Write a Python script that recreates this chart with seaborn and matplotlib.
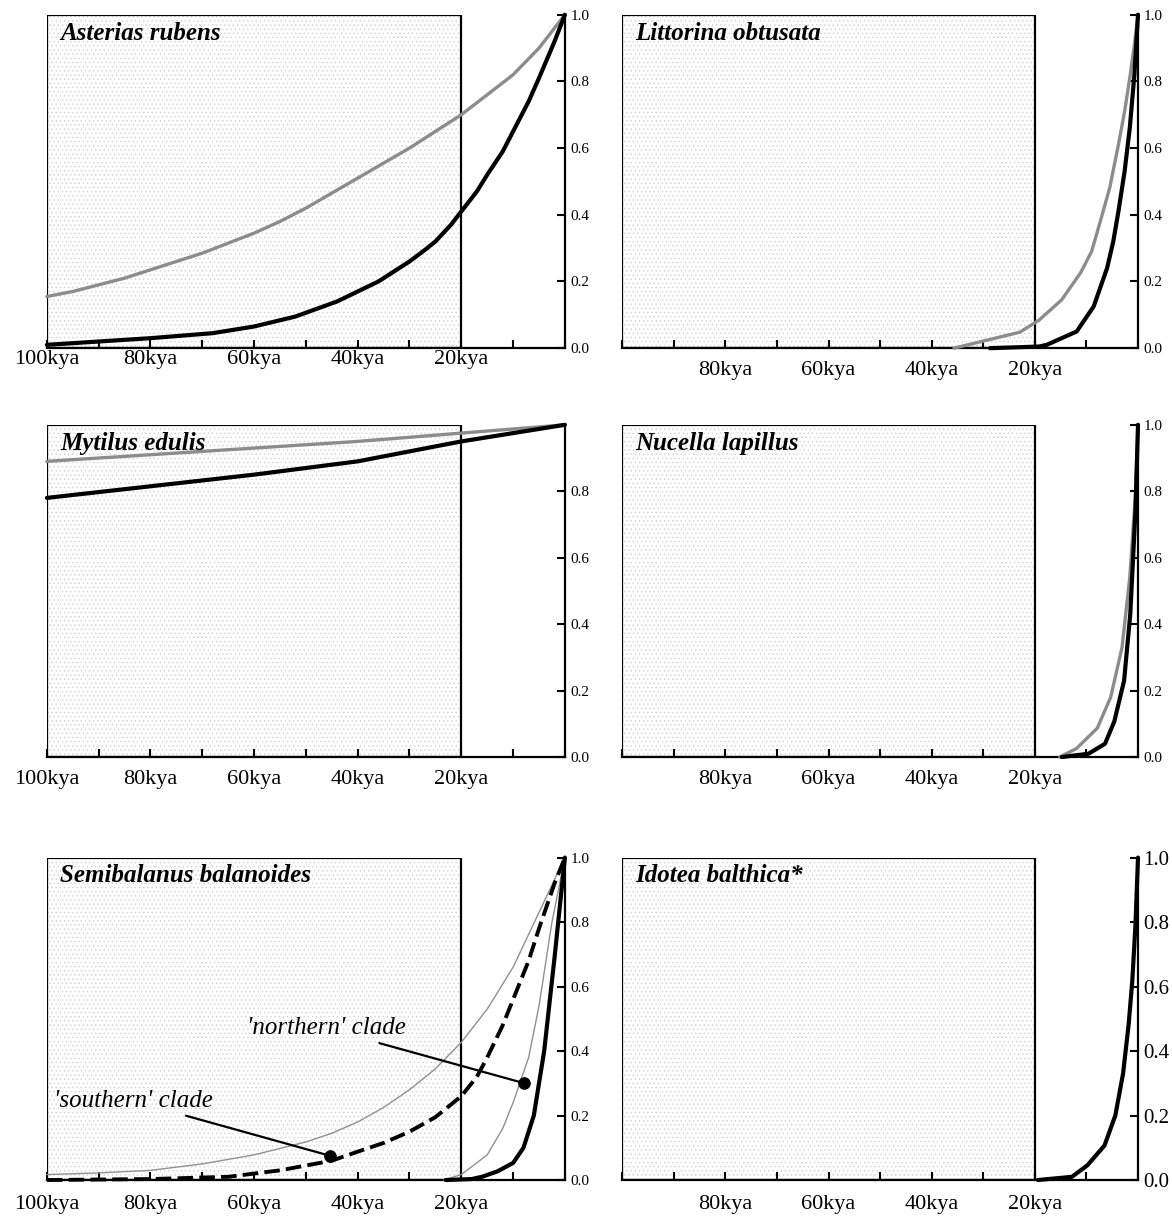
import matplotlib
matplotlib.use("Agg")
import matplotlib.pyplot as plt
import seaborn as sns
from matplotlib.patches import Rectangle

sns.set_theme(style="white")
plt.rcParams['font.family'] = ['Liberation Serif', 'DejaVu Serif']
plt.rcParams['hatch.linewidth'] = 0.5
plt.rcParams['text.color'] = 'black'
plt.rcParams['xtick.color'] = 'black'
plt.rcParams['ytick.color'] = 'black'

# time before present (kya) and relative population size
asterias_gray_kya = [100, 95, 90, 85, 80, 75, 70, 65, 60, 55, 50, 45, 40, 35, 30, 25, 20, 15, 10, 5, 0]
asterias_gray = [0.155, 0.17, 0.19, 0.21, 0.235, 0.26, 0.285, 0.315, 0.345, 0.38, 0.42, 0.465,
                 0.51, 0.555, 0.60, 0.65, 0.70, 0.76, 0.82, 0.90, 1.0]
asterias_black_kya = [100, 90, 80, 68, 60, 52, 44, 40, 36, 33, 30, 27, 25, 22, 20, 17, 15, 12, 10, 7, 5, 2, 0]
asterias_black = [0.01, 0.02, 0.03, 0.045, 0.065, 0.095, 0.14, 0.17, 0.20, 0.23, 0.26, 0.295,
                  0.32, 0.37, 0.41, 0.47, 0.52, 0.59, 0.65, 0.74, 0.81, 0.92, 1.0]

littorina_gray_kya = [35.7, 22.9, 19.2, 14.8, 11.1, 9.0, 7.5, 5.5, 3.8, 2.6, 1.6, 0.7, 0]
littorina_gray = [0.0, 0.048, 0.084, 0.145, 0.227, 0.29, 0.37, 0.48, 0.61, 0.71, 0.81, 0.91, 1.0]
littorina_black_kya = [28.7, 19.2, 17.7, 11.9, 8.6, 6.0, 4.8, 3.8, 2.6, 1.6, 0.7, 0]
littorina_black = [0.0, 0.005, 0.01, 0.05, 0.125, 0.24, 0.32, 0.41, 0.53, 0.66, 0.82, 1.0]

mytilus_kya = [100, 80, 60, 40, 20, 0]
mytilus_gray = [0.89, 0.91, 0.93, 0.95, 0.975, 1.0]
mytilus_black = [0.78, 0.815, 0.85, 0.89, 0.95, 1.0]

nucella_gray_kya = [15.2, 11.9, 7.9, 5.3, 3.1, 1.6, 0.5, 0]
nucella_gray = [0.0, 0.026, 0.087, 0.18, 0.33, 0.54, 0.79, 1.0]
nucella_black_kya = [14.8, 9.6, 6.4, 4.6, 2.7, 1.5, 0.5, 0]
nucella_black = [0.0, 0.01, 0.04, 0.107, 0.23, 0.43, 0.74, 1.0]

semi_south_gray_kya = [100, 90, 80, 70, 60, 50, 45, 40, 35, 30, 25, 20, 15, 10, 5, 0]
semi_south_gray = [0.017, 0.022, 0.03, 0.05, 0.078, 0.118, 0.145, 0.18, 0.225, 0.28, 0.345, 0.427,
                   0.53, 0.66, 0.83, 1.0]
semi_south_black_kya = [100, 80, 65, 55, 50, 45, 40, 35, 30, 25, 20, 17, 15, 12, 10, 7, 5, 2, 0]
semi_south_black = [0.0, 0.003, 0.01, 0.03, 0.045, 0.06, 0.088, 0.115, 0.15, 0.195, 0.26, 0.32,
                    0.38, 0.48, 0.56, 0.68, 0.78, 0.92, 1.0]
semi_north_gray_kya = [23.4, 20, 15, 12, 10, 7, 5, 2.5, 0]
semi_north_gray = [0.0, 0.017, 0.078, 0.16, 0.24, 0.38, 0.54, 0.80, 1.0]
semi_north_black_kya = [23, 18, 16, 13, 10, 8, 6, 4, 2, 0]
semi_north_black = [0.0, 0.003, 0.01, 0.027, 0.053, 0.10, 0.20, 0.40, 0.69, 1.0]

# clade labels: (kya, value) of label end and of the marked point
north_label = (30.7, 0.47)
north_point = (7.8, 0.30)
south_label = (68.0, 0.245)
south_point = (45.3, 0.075)

idotea_kya = [19.4, 12.8, 9.8, 6.5, 4.4, 2.9, 1.8, 1.1, 0.5, 0]
idotea_black = [0.0, 0.01, 0.046, 0.107, 0.20, 0.33, 0.485, 0.62, 0.79, 1.0]

kya_ticks = list(range(100, -1, -10))
x_labels_left = ['100kya', '', '80kya', '', '60kya', '', '40kya', '', '20kya', '', '']
x_labels_right = ['', '', '80kya', '', '60kya', '', '40kya', '', '20kya', '', '']
y_ticks = [0.0, 0.2, 0.4, 0.6, 0.8, 1.0]
y_labels = ['0.0', '0.2', '0.4', '0.6', '0.8', '1.0']

GRAY = '#8c8c8c'
BLACK = '#000000'


def setup_panel(ax, title, xlabels, ylabels, xpad, ylabelsize=11):
    ax.set_facecolor('none')
    ax.set_xlim(100, 0)
    ax.set_ylim(0, 1)
    # stippled background of the glacial box (100-20 kya)
    ax.add_patch(Rectangle((20, 0), 80, 1, facecolor='none', hatch='....',
                           edgecolor='#d2d2d2', lw=0, zorder=0))
    ax.add_patch(Rectangle((20, 0), 80, 1, facecolor='none', edgecolor='black',
                           lw=1.6, zorder=1.5))
    for side in ['top', 'left']:
        ax.spines[side].set_visible(False)
    for side in ['right', 'bottom']:
        ax.spines[side].set_visible(True)
        ax.spines[side].set_color('black')
        ax.spines[side].set_linewidth(1.6)
    ax.set_xticks(kya_ticks)
    ax.set_xticklabels(xlabels)
    ax.tick_params(axis='x', direction='in', length=6, width=1.5, labelsize=16,
                   pad=xpad, bottom=True, colors='black')
    ax.yaxis.tick_right()
    ax.set_yticks(y_ticks)
    ax.set_yticklabels(ylabels)
    ax.tick_params(axis='y', direction='in', length=6, width=1.5, labelsize=ylabelsize,
                   pad=4, right=True, colors='black')
    ax.set_xlabel('')
    ax.set_ylabel('')
    ax.grid(False)
    ax.text(97.5, 0.945, title, fontsize=18, fontweight='bold', fontstyle='italic',
            color='black', va='center', ha='left', zorder=5)


def curve(ax, x, y, color, lw, ls='-'):
    sns.lineplot(x=x, y=y, ax=ax, color=color, linewidth=lw, linestyle=ls,
                 estimator=None, sort=False, clip_on=False, zorder=3)


fig = plt.figure(figsize=(11.72, 12.26), dpi=100)
col_x = [0.040, 0.531]
col_w = [0.442, 0.440]
row_y = [0.716, 0.3825, 0.0375]
row_h = [0.272, 0.271, 0.263]

ax1 = fig.add_axes([col_x[0], row_y[0], col_w[0], row_h[0]])
curve(ax1, asterias_gray_kya, asterias_gray, GRAY, 2.4)
curve(ax1, asterias_black_kya, asterias_black, BLACK, 3.0)
setup_panel(ax1, 'Asterias rubens', x_labels_left, y_labels, 1)

ax2 = fig.add_axes([col_x[1], row_y[0], col_w[1], row_h[0]])
curve(ax2, littorina_gray_kya, littorina_gray, GRAY, 2.4)
curve(ax2, littorina_black_kya, littorina_black, BLACK, 3.0)
setup_panel(ax2, 'Littorina obtusata', x_labels_right, y_labels, 9)

ax3 = fig.add_axes([col_x[0], row_y[1], col_w[0], row_h[1]])
curve(ax3, mytilus_kya, mytilus_gray, GRAY, 2.4)
curve(ax3, mytilus_kya, mytilus_black, BLACK, 3.0)
setup_panel(ax3, 'Mytilus edulis', x_labels_left, y_labels[:-1] + [''], 9)

ax4 = fig.add_axes([col_x[1], row_y[1], col_w[1], row_h[1]])
curve(ax4, nucella_gray_kya, nucella_gray, GRAY, 2.4)
curve(ax4, nucella_black_kya, nucella_black, BLACK, 3.0)
setup_panel(ax4, 'Nucella lapillus', x_labels_right, y_labels, 9)

ax5 = fig.add_axes([col_x[0], row_y[2], col_w[0], row_h[2]])
curve(ax5, semi_south_gray_kya, semi_south_gray, '#909090', 1.0)
curve(ax5, semi_north_gray_kya, semi_north_gray, '#909090', 1.0)
curve(ax5, semi_south_black_kya, semi_south_black, BLACK, 2.8, (0, (4, 1.6)))
curve(ax5, semi_north_black_kya, semi_north_black, BLACK, 3.0)
setup_panel(ax5, 'Semibalanus balanoides', x_labels_left, y_labels, 11)
for label, txt_pos, pt in [("'northern' clade", north_label, north_point),
                           ("'southern' clade", south_label, south_point)]:
    ax5.annotate(label, xy=pt, xytext=txt_pos, fontsize=18, fontstyle='italic',
                 ha='right', va='center', color='black',
                 arrowprops=dict(arrowstyle='-', color='black', lw=1.6,
                                 shrinkA=1, shrinkB=0), zorder=6)
sns.scatterplot(x=[north_point[0], south_point[0]], y=[north_point[1], south_point[1]],
                ax=ax5, color='black', s=70, edgecolor='black', zorder=7, clip_on=False)

ax6 = fig.add_axes([col_x[1], row_y[2], col_w[1], row_h[2]])
curve(ax6, idotea_kya, idotea_black, BLACK, 3.0)
setup_panel(ax6, 'Idotea balthica*', x_labels_right, y_labels, 11, ylabelsize=15)

plt.savefig('out.png', dpi=100)
plt.close()
